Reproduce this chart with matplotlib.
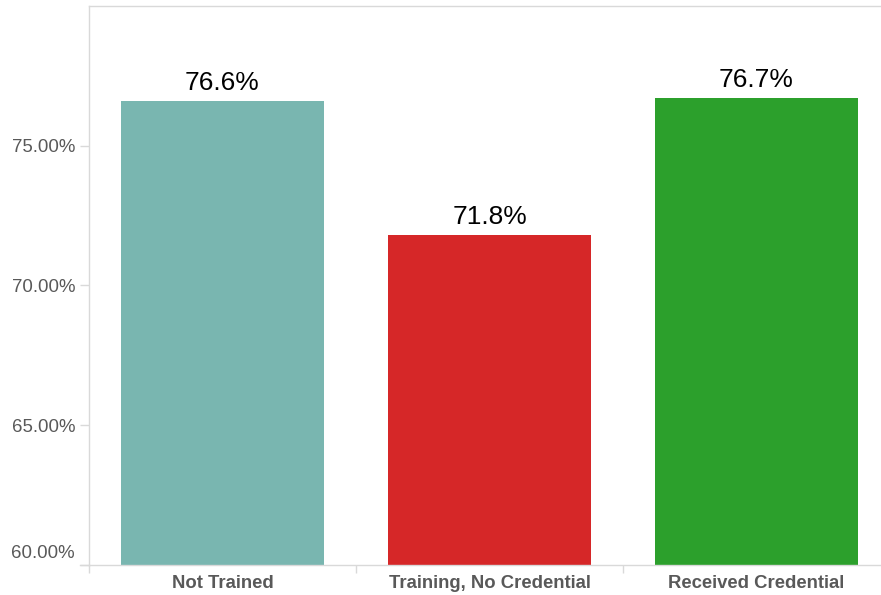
import matplotlib
matplotlib.use("Agg")
import matplotlib.pyplot as plt
import matplotlib.transforms as mtransforms

categories = ["Not Trained", "Training, No Credential", "Received Credential"]
rates = [76.6, 71.8, 76.7]
bar_colors = ["#79b6b0", "#d62728", "#2ca02c"]
y_ticks = [60, 65, 70, 75]

plt.rcParams["font.family"] = ["Liberation Sans", "DejaVu Sans"]

GRID = "#d9d9d9"
TEXT = "#595959"

fig = plt.figure(figsize=(8.81, 5.95), dpi=100)
ax = fig.add_axes([89 / 881, 30 / 595, 801 / 881, 559 / 595])

x = list(range(len(categories)))
ax.bar(x, rates, width=0.757, color=bar_colors, zorder=2)

for xi, v in zip(x, rates):
    ax.annotate(f"{v:.1f}%", (xi, v), xytext=(0, 4.5), textcoords="offset points",
                ha="center", va="bottom", fontsize=19, color="black")

ax.set_xlim(-0.5, 2.5)
ax.set_ylim(60, 80)

ax.set_yticks(y_ticks)
ax.set_yticklabels([f"{t:.2f}%" for t in y_ticks], fontsize=13.4, color=TEXT)
ax.tick_params(axis="y", length=6.5, width=1, color=GRID, pad=3.5)

# category ticks sit on the boundaries, labels in the middle
ax.set_xticks([-0.5, 0.5, 1.5], minor=False)
ax.set_xticklabels([])
ax.tick_params(axis="x", length=6, width=1, color=GRID)
ax.set_xticks(x, minor=True)
ax.set_xticklabels(categories, minor=True, fontsize=13.3, fontweight="bold", color=TEXT)
ax.tick_params(axis="x", which="minor", length=0, pad=7.5)

# the 60% label is pushed up so it stays above the baseline
low = ax.get_yticklabels()[0]
low.set_verticalalignment("bottom")
low.set_transform(low.get_transform() + mtransforms.ScaledTranslation(0, 2.2 / 72, fig.dpi_scale_trans))

for side in ["left", "top", "bottom"]:
    ax.spines[side].set_color(GRID)
    ax.spines[side].set_linewidth(1)
ax.spines["right"].set_visible(False)

# bottom line reaches out to the 60% tick
ax.plot([-0.535, -0.5], [60, 60], color=GRID, lw=1, clip_on=False)

fig.savefig("out.png", dpi=100)
